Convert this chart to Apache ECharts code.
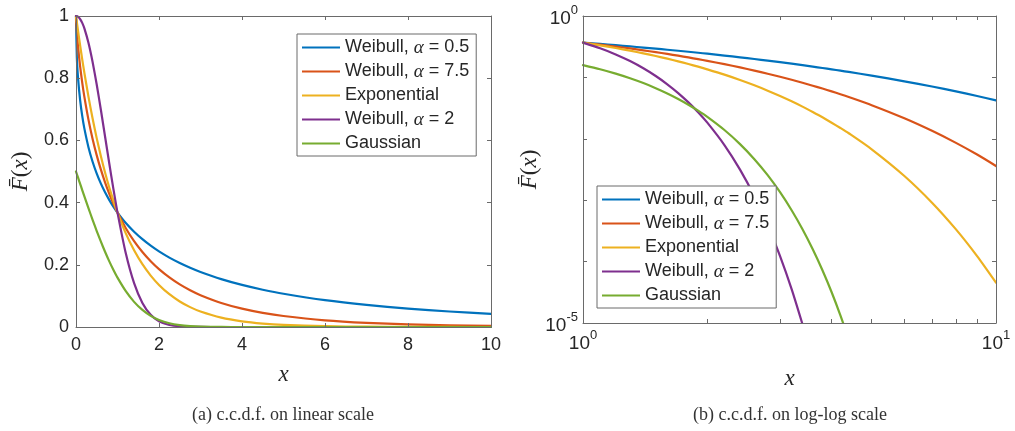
<!DOCTYPE html>
<html><head><meta charset="utf-8">
<script src="https://cdn.jsdelivr.net/npm/echarts@6/dist/echarts.min.js"></script>
<style>html,body{margin:0;padding:0;background:#fff}#c{width:1015px;height:431px}</style>
</head><body><div id="c"></div><script>
// ---- data ----
const seriesNames = ['Weibull, α = 0.5', 'Weibull, α = 7.5', 'Exponential', 'Weibull, α = 2', 'Gaussian'];
const colors = ['#0072BD', '#D95319', '#EDB120', '#7E2F8E', '#77AC30'];

// (a) linear scale
const linX = [0,0.02,0.05,0.1,0.15,0.2,0.3,0.4,0.5,0.6,0.7,0.8,0.9,1,1.2,1.4,1.6,1.8,2,2.25,2.5,2.75,3,3.5,4,4.5,5,6,7,8,9,10];
const linWeib05 = [1,0.8681,0.7997,0.7289,0.6789,0.6394,0.5783,0.5313,0.4931,0.4609,0.4331,0.4088,0.3872,0.3679,0.3344,0.3063,0.2823,0.2614,0.2431,0.2231,0.2057,0.1905,0.1769,0.1540,0.1353,0.1199,0.1069,0.0863,0.0710,0.0591,0.0498,0.0423];
const linWeib75 = [1,0.9482,0.8997,0.8371,0.7858,0.7415,0.6668,0.6047,0.5518,0.5058,0.4652,0.4292,0.3969,0.3679,0.3177,0.2761,0.2411,0.2114,0.1860,0.1593,0.1369,0.1182,0.1023,0.0774,0.0591,0.0455,0.0353,0.0216,0.0135,0.0086,0.0055,0.0036];
const linExp = [1,0.9802,0.9512,0.9048,0.8607,0.8187,0.7408,0.6703,0.6065,0.5488,0.4966,0.4493,0.4066,0.3679,0.3012,0.2466,0.2019,0.1653,0.1353,0.1054,0.0821,0.0639,0.0498,0.0302,0.0183,0.0111,0.0067,0.0025,0.0009,0.0003,0.0001,0.00005];
const linWeib2 = [1,0.9996,0.9975,0.9900,0.9778,0.9608,0.9139,0.8521,0.7788,0.6977,0.6126,0.5273,0.4449,0.3679,0.2369,0.1409,0.0773,0.0392,0.0183,0.0063,0.0019,0.0005,0.0001,0,0,0,0,0,0,0,0,0];
const linGauss = [0.5,0.4920,0.4801,0.4602,0.4404,0.4207,0.3821,0.3446,0.3085,0.2743,0.2420,0.2119,0.1841,0.1587,0.1151,0.0808,0.0548,0.0359,0.0228,0.0122,0.0062,0.0030,0.0013,0.0002,0,0,0,0,0,0,0,0];

// (b) log-log scale
const logX = [1,1.1,1.2,1.3,1.4,1.5,1.6,1.7,1.8,1.9,2,2.2,2.4,2.6,2.8,3,3.2,3.4,3.6,3.8,4,4.2,4.4,5,6,7,8,9,10];
const logWeib05 = [0.3679,0.3504,0.3344,0.3197,0.3063,0.2938,0.2823,0.2715,0.2614,0.2520,0.2431,0.2269,0.2124,0.1994,0.1876,0.1769,0.1672,0.1582,0.1499,0.1424,0.1353,0.1288,0.1227,0.1069,0.0863,0.0710,0.0591,0.0498,0.0423];
const logWeib75 = [0.3679,0.3416,0.3177,0.2960,0.2761,0.2578,0.2411,0.2257,0.2114,0.1982,0.1860,0.1642,0.1454,0.1291,0.1148,0.1023,0.0914,0.0818,0.0733,0.0658,0.0591,0.0532,0.0479,0.0353,0.0216,0.0135,0.00859,0.00554,0.00361];
const logExp = [0.3679,0.3329,0.3012,0.2725,0.2466,0.2231,0.2019,0.1827,0.1653,0.1496,0.1353,0.1108,0.0907,0.0743,0.0608,0.0498,0.0408,0.0334,0.0273,0.0224,0.0183,0.0150,0.0123,0.00674,0.00248,0.000912,0.000335,0.000123,0.0000454];
const logWeib2 = [0.3679,0.2982,0.2369,0.1845,0.1409,0.1054,0.0773,0.0556,0.0392,0.0271,0.0183,0.00791,0.00315,0.00116,0.000394,0.000123,0.0000357,0.00000954];
const logGauss = [0.1587,0.1357,0.1151,0.0968,0.0808,0.0668,0.0548,0.0446,0.0359,0.0287,0.02275,0.0139,0.0082,0.00466,0.00256,0.00135,0.000687,0.000337,0.000159,0.0000723,0.0000317,0.0000133,0.00000541];

// tick values / labels
const linXTicks = {min: 0, max: 10, interval: 2};
const linYTicks = {min: 0, max: 1, interval: 0.2};
const logXTickValues = [1,2,3,4,5,6,7,8,9,10];
const logXLabelValues = [1,10];
const logYTickValues = [0.00001,0.0001,0.001,0.01,0.1,1];
const logYLabelValues = [0.00001,1];
const captions = ['(a) c.c.d.f. on linear scale', '(b) c.c.d.f. on log-log scale'];

// ---- chart ----
const ink = '#262626';
const axisCol = '#6a6a6a';
const sans = 'Liberation Sans';
const serif = 'Liberation Serif';

function pairs(xs, ys) { return ys.map((y, i) => [xs[i], y]); }

function baseAxis(extra) {
  return Object.assign({
    axisLine: {show: true, onZero: false, lineStyle: {color: axisCol, width: 1}},
    axisTick: {show: true, inside: true, length: 4, lineStyle: {color: axisCol, width: 1}},
    splitLine: {show: false},
    axisLabel: {show: true, fontFamily: sans, fontSize: 18, color: ink},
    z: 5
  }, extra);
}
const supRich = {
  b: {fontFamily: sans, fontSize: 19, color: ink, verticalAlign: 'bottom', lineHeight: 24},
  s: {fontFamily: sans, fontSize: 13, color: ink, verticalAlign: 'top', lineHeight: 24}
};
function powFmt(v) { return '{b|10}{s|' + Math.round(Math.log10(v)) + '}'; }

const yName = '{f|F\u0304}{p|(}{f|x}{p|)}';
const yNameStyle = {rich: {
  f: {fontFamily: serif, fontStyle: 'italic', fontSize: 23, color: ink},
  p: {fontFamily: serif, fontSize: 23, color: ink}
}};
const xNameStyle = {fontFamily: serif, fontStyle: 'italic', fontSize: 23, color: ink};

const legendBase = {
  orient: 'vertical', icon: 'rect', itemWidth: 38, itemHeight: 2, itemGap: 5,
  padding: [4, 7, 3, 5], borderColor: axisCol, borderWidth: 1, backgroundColor: '#fff',
  selectedMode: false, data: seriesNames, z: 10,
  formatter: n => n.replace('α', '{a|α}'),
  textStyle: {fontFamily: sans, fontSize: 18, color: ink, lineHeight: 19,
    rich: {a: {fontFamily: serif, fontStyle: 'italic', fontSize: 19, color: ink}}}
};

const linData = [linWeib05, linWeib75, linExp, linWeib2, linGauss];
const logData = [logWeib05, logWeib75, logExp, logWeib2, logGauss];
const series = [];
linData.forEach((ys, i) => series.push({
  type: 'line', name: seriesNames[i], xAxisIndex: 0, yAxisIndex: 0,
  data: pairs(linX, ys), showSymbol: false, symbol: 'none', smooth: 0.2,
  lineStyle: {width: 2.2, color: colors[i], join: 'round', cap: 'round'}, itemStyle: {color: colors[i]}, clip: true, z: 3
}));
logData.forEach((ys, i) => series.push({
  type: 'line', name: seriesNames[i], xAxisIndex: 2, yAxisIndex: 2,
  data: pairs(logX, ys), showSymbol: false, symbol: 'none', smooth: 0.25,
  lineStyle: {width: 2.2, color: colors[i], join: 'round', cap: 'round'}, itemStyle: {color: colors[i]}, clip: true, z: 3
}));

const option = {
  animation: false,
  backgroundColor: '#fff',
  grid: [
    {left: 76, top: 16, width: 415, height: 311},
    {left: 583, top: 16, width: 413, height: 307}
  ],
  xAxis: [
    baseAxis(Object.assign({type: 'value', gridIndex: 0, position: 'bottom',
      name: 'x', nameLocation: 'middle', nameGap: 36, nameTextStyle: xNameStyle}, linXTicks,
      {axisLabel: {fontFamily: sans, fontSize: 18, color: ink, margin: 9}})),
    baseAxis(Object.assign({type: 'value', gridIndex: 0, position: 'top'}, linXTicks,
      {axisLabel: {show: false}})),
    baseAxis({type: 'log', logBase: 10, gridIndex: 1, position: 'bottom', min: 1, max: 10,
      name: 'x', nameLocation: 'middle', nameGap: 44, nameTextStyle: xNameStyle,
      axisTick: {show: true, inside: true, length: 4, lineStyle: {color: axisCol}, customValues: logXTickValues},
      axisLabel: {customValues: logXLabelValues, formatter: powFmt, rich: supRich, margin: 6}}),
    baseAxis({type: 'log', logBase: 10, gridIndex: 1, position: 'top', min: 1, max: 10,
      axisTick: {show: true, inside: true, length: 4, lineStyle: {color: axisCol}, customValues: logXTickValues},
      axisLabel: {show: false}})
  ],
  yAxis: [
    baseAxis(Object.assign({type: 'value', gridIndex: 0, position: 'left',
      name: yName, nameLocation: 'middle', nameGap: 44, nameRotate: 90, nameTextStyle: yNameStyle}, linYTicks,
      {axisLabel: {fontFamily: sans, fontSize: 18, color: ink, margin: 7}})),
    baseAxis(Object.assign({type: 'value', gridIndex: 0, position: 'right'}, linYTicks,
      {axisLabel: {show: false}})),
    baseAxis({type: 'log', logBase: 10, gridIndex: 1, position: 'left', min: 0.00001, max: 1,
      name: yName, nameLocation: 'middle', nameGap: 40, nameRotate: 90, nameTextStyle: yNameStyle,
      axisTick: {show: true, inside: true, length: 4, lineStyle: {color: axisCol}, customValues: logYTickValues},
      axisLabel: {customValues: logYLabelValues, formatter: powFmt, rich: supRich, margin: 5}}),
    baseAxis({type: 'log', logBase: 10, gridIndex: 1, position: 'right', min: 0.00001, max: 1,
      axisTick: {show: true, inside: true, length: 4, lineStyle: {color: axisCol}, customValues: logYTickValues},
      axisLabel: {show: false}})
  ],
  legend: [
    Object.assign({}, legendBase, {left: 297, top: 34}),
    Object.assign({}, legendBase, {left: 597, top: 186})
  ],
  graphic: [
    {type: 'text', x: 283, y: 415, style: {text: captions[0], font: '18px "Liberation Serif"', fill: '#333', align: 'center', verticalAlign: 'middle', textAlign: 'center', textVerticalAlign: 'middle'}},
    {type: 'text', x: 790, y: 415, style: {text: captions[1], font: '18px "Liberation Serif"', fill: '#333', align: 'center', verticalAlign: 'middle', textAlign: 'center', textVerticalAlign: 'middle'}}
  ],
  series: series
};
const chart = echarts.init(document.getElementById('c'), null, {renderer: 'canvas'});
chart.setOption(option);
</script></body></html>
